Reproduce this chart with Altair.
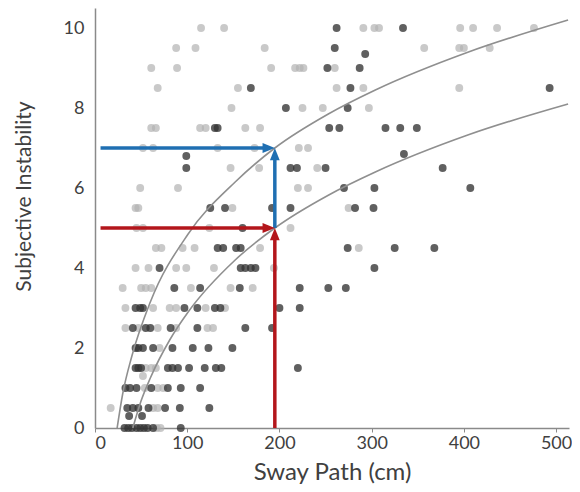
import altair as alt
import pandas as pd

# ---- scatter data ----
light_x = [115, 140, 291, 303, 308, 396, 410, 436, 476,
           88, 109, 184, 357, 395, 400, 428,
           61, 89, 191, 217, 222, 226, 260,
           68, 155, 262, 291, 395,
           148, 225, 247, 297,
           61, 66, 114, 120, 163, 179,
           52, 63, 133, 173, 221, 231,
           147, 178, 241,
           49, 90, 220, 231,
           44, 47, 149, 275,
           45, 52, 124, 212,
           66, 72, 95, 108, 179, 286,
           44, 58, 88, 99, 129, 194,
           30, 50, 55, 61, 104, 147, 171,
           33, 63, 81, 88, 120, 141,
           33, 47, 68, 88, 122, 128,
           70,
           55, 61, 66,
           52,
           54, 68, 74,
           17, 63, 68,
           67, 71]
light_y = [10] * 9 + [9.5] * 7 + [9] * 7 + [8.5] * 5 + [8] * 4 + [7.5] * 6 + [7] * 6 \
    + [6.5] * 3 + [6] * 4 + [5.5] * 4 + [5] * 4 + [4.5] * 6 + [4] * 6 + [3.5] * 7 \
    + [3] * 6 + [2.5] * 6 + [2] * 1 + [1.5] * 3 + [1.3] * 1 + [1] * 3 + [0.5] * 3 + [0] * 2

dark_x = [262, 334,
          260,
          293,
          252, 287,
          169, 277, 493,
          207, 274,
          130, 133, 254, 265, 315, 331, 349,
          335,
          99,
          99, 212, 219, 250, 377,
          270, 303, 407,
          125, 141, 192, 212, 282, 302,
          160,
          133, 139, 153, 158, 274, 325, 368,
          70, 158, 163, 169, 174, 303,
          86, 114, 157, 222, 253, 272,
          44, 49, 52, 97, 111, 130, 136, 200, 222,
          41, 55, 60, 82, 111, 163, 192,
          44, 47, 52, 63, 84, 106, 123, 149,
          44, 47, 50, 79, 84, 90, 102, 119, 131, 137, 220,
          33, 38, 45, 61, 79, 93, 114,
          35, 41, 47, 58, 76, 92, 124,
          37, 51,
          32, 36, 40, 45, 49, 53, 57, 63, 93]
dark_y = [10] * 2 + [9.5] + [9.35] + [9] * 2 + [8.5] * 3 + [8] * 2 + [7.5] * 7 + [6.85] + [6.8] \
    + [6.5] * 5 + [6] * 3 + [5.5] * 6 + [5] + [4.5] * 7 + [4] * 6 + [3.5] * 6 + [3] * 9 \
    + [2.5] * 7 + [2] * 8 + [1.5] * 11 + [1] * 7 + [0.5] * 7 + [0.3] * 2 + [0] * 9

# ---- fitted curves ----
upper_x = [24, 30, 40, 60, 101, 152, 195, 253, 304, 405, 513]
upper_y = [0, 0.85, 1.8, 3.15, 4.85, 6.15, 7.0, 7.85, 8.45, 9.4, 10.2]
lower_x = [41, 50, 60, 81, 101, 152, 195, 253, 304, 405, 513]
lower_y = [0, 0.68, 1.25, 2.2, 2.9, 4.2, 5.0, 5.82, 6.4, 7.33, 8.1]

# ---- arrows ----
blue_seg_x = [6, 195]
blue_seg_x2 = [189, 195]
blue_seg_y = [7, 5]
blue_seg_y2 = [7, 6.8]
red_seg_x = [6, 195]
red_seg_x2 = [189, 195]
red_seg_y = [5, 0]
red_seg_y2 = [5, 4.8]
blue_tip = (195, 7)
red_tip = (195, 5)

BLUE = "#1f6fb2"
RED = "#b3161b"
FONT = "Lato"

pts = pd.DataFrame({
    "x": light_x + dark_x,
    "y": light_y + dark_y,
    "g": ["light"] * len(light_x) + ["dark"] * len(dark_x),
})
curves = pd.DataFrame({
    "x": upper_x + lower_x,
    "y": upper_y + lower_y,
    "c": ["upper"] * len(upper_x) + ["lower"] * len(lower_x),
})

xscale = alt.Scale(domain=[0, 514], nice=False, zero=False)
yscale = alt.Scale(domain=[0, 10.5], nice=False, zero=False)
xaxis = alt.Axis(values=[0, 100, 200, 300, 400, 500], title="Sway Path (cm)", grid=False,
                 tickSize=4, labelPadding=2, titleFontSize=24,
                 titleBaseline="alphabetic", titleY=51)
yaxis = alt.Axis(values=[0, 2, 4, 6, 8, 10], title="Subjective Instability", grid=False,
                 ticks=False, labelPadding=11, titleFontSize=21,
                 titleBaseline="alphabetic", titleX=-65, titleY=188)

points = alt.Chart(pts).mark_circle(size=62).encode(
    x=alt.X("x:Q", scale=xscale, axis=xaxis),
    y=alt.Y("y:Q", scale=yscale, axis=yaxis),
    color=alt.Color("g:N", scale=alt.Scale(domain=["light", "dark"], range=["#b2b2b2", "#333333"]), legend=None),
    opacity=alt.Opacity("g:N", scale=alt.Scale(domain=["light", "dark"], range=[0.7, 0.78]), legend=None),
)

lines = alt.Chart(curves).mark_line(color="#8f8f8f", strokeWidth=1.6, interpolate="monotone").encode(
    x=alt.X("x:Q", scale=xscale),
    y=alt.Y("y:Q", scale=yscale),
    detail="c:N",
)


def arrow(xs, xs2, ys, ys2, tip, color):
    segs = pd.DataFrame({"x": xs, "x2": xs2, "y": ys, "y2": ys2})
    tipdf = pd.DataFrame({"x": [tip[0]], "y": [tip[1]]})
    rule = alt.Chart(segs).mark_rule(strokeWidth=3.5, color=color).encode(
        x=alt.X("x:Q", scale=xscale), x2="x2:Q",
        y=alt.Y("y:Q", scale=yscale), y2="y2:Q",
    )
    hr = alt.Chart(tipdf).mark_point(
        shape="M0,0L-2,-0.8L-2,0.8Z", size=150, filled=True, opacity=1, strokeWidth=0, color=color
    ).encode(x=alt.X("x:Q", scale=xscale), y=alt.Y("y:Q", scale=yscale))
    hu = alt.Chart(tipdf).mark_point(
        shape="M0,0L-0.8,2L0.8,2Z", size=150, filled=True, opacity=1, strokeWidth=0, color=color
    ).encode(x=alt.X("x:Q", scale=xscale), y=alt.Y("y:Q", scale=yscale))
    return [rule, hr, hu]


layers = [points, lines] + arrow(blue_seg_x, blue_seg_x2, blue_seg_y, blue_seg_y2, blue_tip, BLUE) \
    + arrow(red_seg_x, red_seg_x2, red_seg_y, red_seg_y2, red_tip, RED)

chart = alt.layer(*layers).properties(
    width=474, height=420,
    padding={"left": 87, "top": 0, "right": 3, "bottom": 56},
    autosize=alt.AutoSizeParams(type="none"),
).configure_view(stroke=None).configure_axis(
    labelFont=FONT, titleFont=FONT, labelFontSize=18,
    titleFontWeight="normal", labelColor="#404040", titleColor="#404040",
    domainColor="#8a8a8a", domainWidth=1.5, tickColor="#8a8a8a",
)

chart.save("out.html", embed_options={"renderer": "svg", "actions": False})
